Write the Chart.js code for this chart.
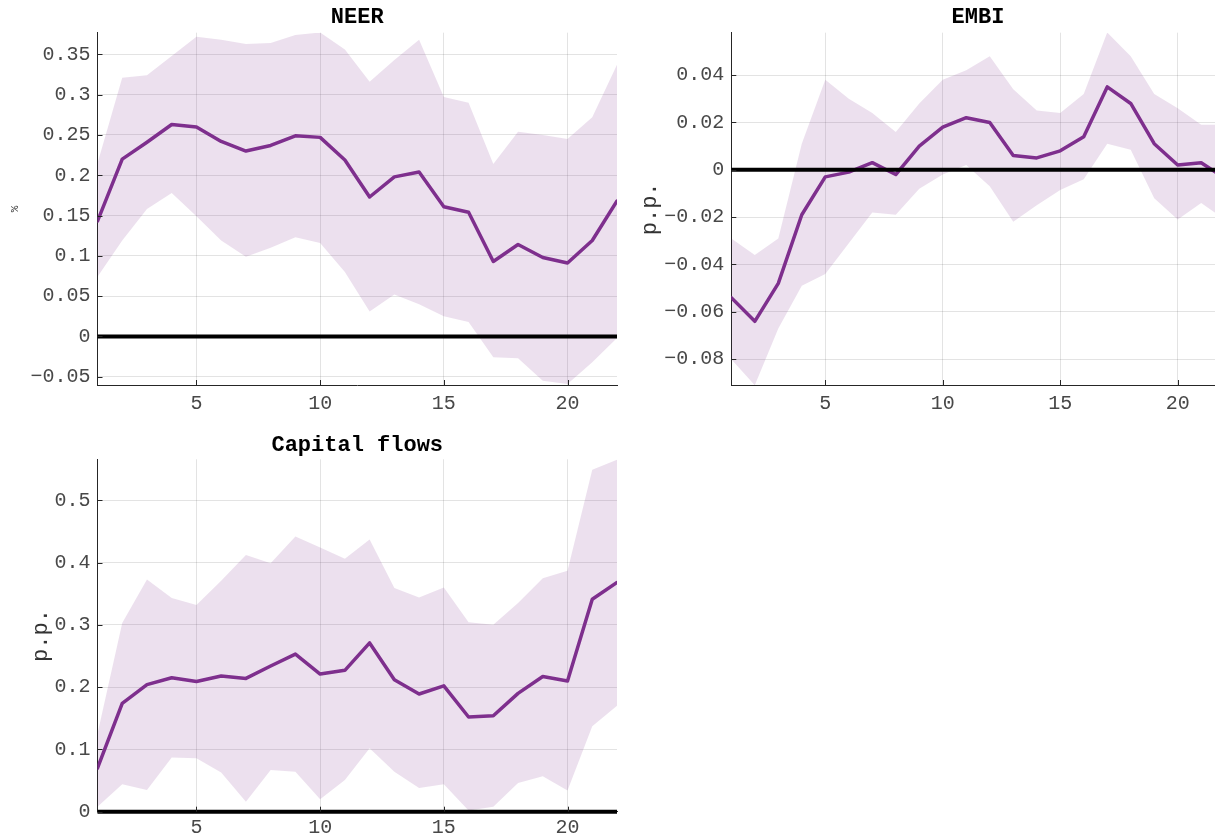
<!DOCTYPE html>
<html>
<head>
<meta charset="utf-8">
<script src="https://cdn.jsdelivr.net/npm/chart.js@4.4.0/dist/chart.umd.min.js"></script>
<style>
  html, body { margin: 0; padding: 0; width: 1215px; height: 835px; overflow: hidden; background: #fff; }
  canvas { position: absolute; }
  #neer { left: 0; top: 0; }
  #embi { left: 620px; top: 0; }
  #flows { left: 0; top: 420px; }
</style>
</head>
<body>
<canvas id="neer" width="620" height="420"></canvas>
<canvas id="embi" width="620" height="420"></canvas>
<canvas id="flows" width="620" height="425"></canvas>
<script>
// Horizons (periods after the shock)
const horizon = [1, 2, 3, 4, 5, 6, 7, 8, 9, 10, 11, 12, 13, 14, 15, 16, 17, 18, 19, 20, 21, 22];
const xTicks = [5, 10, 15, 20];

// NEER response, %
const neerMean  = [0.143, 0.220, 0.241, 0.263, 0.260, 0.242, 0.230, 0.237, 0.249, 0.247, 0.219, 0.173, 0.198, 0.204, 0.161, 0.154, 0.093, 0.114, 0.098, 0.091, 0.119, 0.168];
const neerUpper = [0.215, 0.321, 0.324, 0.348, 0.372, 0.368, 0.363, 0.364, 0.374, 0.377, 0.356, 0.316, 0.343, 0.368, 0.297, 0.290, 0.214, 0.254, 0.250, 0.245, 0.272, 0.337];
const neerLower = [0.074, 0.119, 0.158, 0.178, 0.149, 0.119, 0.099, 0.110, 0.123, 0.116, 0.080, 0.031, 0.052, 0.040, 0.025, 0.018, -0.026, -0.027, -0.055, -0.059, -0.032, -0.002];
const neerTicks = [-0.05, 0, 0.05, 0.1, 0.15, 0.2, 0.25, 0.3, 0.35];

// EMBI response, p.p.
const embiMean  = [-0.054, -0.064, -0.048, -0.019, -0.003, -0.001, 0.003, -0.002, 0.010, 0.018, 0.022, 0.020, 0.006, 0.005, 0.008, 0.014, 0.035, 0.028, 0.011, 0.002, 0.003, -0.0035];
const embiUpper = [-0.029, -0.036, -0.029, 0.011, 0.038, 0.030, 0.024, 0.016, 0.028, 0.038, 0.042, 0.048, 0.034, 0.025, 0.024, 0.032, 0.058, 0.048, 0.032, 0.026, 0.019, 0.019];
const embiLower = [-0.080, -0.091, -0.067, -0.049, -0.044, -0.031, -0.018, -0.019, -0.008, -0.002, 0.002, -0.007, -0.022, -0.015, -0.0085, -0.004, 0.011, 0.0085, -0.012, -0.021, -0.014, -0.021];
const embiTicks = [-0.08, -0.06, -0.04, -0.02, 0, 0.02, 0.04];

// Capital flows response, p.p.
const flowsMean  = [0.070, 0.174, 0.204, 0.215, 0.209, 0.218, 0.214, 0.234, 0.253, 0.221, 0.227, 0.271, 0.212, 0.189, 0.202, 0.152, 0.154, 0.190, 0.217, 0.210, 0.341, 0.368];
const flowsUpper = [0.125, 0.303, 0.373, 0.343, 0.332, 0.371, 0.412, 0.399, 0.442, 0.424, 0.406, 0.437, 0.359, 0.344, 0.360, 0.304, 0.300, 0.335, 0.375, 0.387, 0.549, 0.565];
const flowsLower = [0.008, 0.044, 0.035, 0.087, 0.086, 0.063, 0.016, 0.067, 0.064, 0.020, 0.051, 0.102, 0.064, 0.038, 0.044, 0.002, 0.008, 0.046, 0.057, 0.034, 0.137, 0.170];
const flowsTicks = [0, 0.1, 0.2, 0.3, 0.4, 0.5];

const LINE = '#7E2F8E';
const BAND = 'rgba(126, 47, 142, 0.15)';
const AXIS = '#262626';
const GRID = 'rgba(38, 38, 38, 0.13)';
const MONO = '"Liberation Mono", "DejaVu Sans Mono", monospace';

Chart.defaults.font.family = MONO;
Chart.defaults.color = '#484848';

function fmt(v) {
  if (Math.abs(v) < 1e-12) return '0';
  return String(+v.toFixed(4)).replace('-', '\u2212');
}

// Zero reference line (over the band, under the response line), title, axis label, inward ticks
const panelDecor = {
  id: 'panelDecor',
  afterDatasetDraw(chart, args) {
    if (args.index !== 1) return;
    const { ctx, chartArea: a, scales: { y } } = chart;
    const py = y.getPixelForValue(0);
    ctx.save();
    ctx.strokeStyle = '#000';
    ctx.lineWidth = 4;
    ctx.beginPath();
    ctx.moveTo(a.left, py);
    ctx.lineTo(a.right, py);
    ctx.stroke();
    ctx.restore();
  },
  afterDraw(chart, args, opts) {
    const { ctx, chartArea: a, scales: { x, y } } = chart;
    ctx.save();
    // inward tick marks
    ctx.strokeStyle = AXIS;
    ctx.lineWidth = 1;
    ctx.beginPath();
    y.ticks.forEach(t => {
      const py = Math.round(y.getPixelForValue(t.value)) + 0.5;
      ctx.moveTo(a.left, py);
      ctx.lineTo(a.left + 5, py);
    });
    x.ticks.forEach(t => {
      const px = Math.round(x.getPixelForValue(t.value)) + 0.5;
      ctx.moveTo(px, a.bottom);
      ctx.lineTo(px, a.bottom - 5);
    });
    ctx.stroke();
    // title
    ctx.fillStyle = '#000';
    ctx.font = 'bold 22px ' + MONO;
    ctx.textAlign = 'center';
    ctx.textBaseline = 'alphabetic';
    ctx.fillText(opts.title, (a.left + a.right) / 2, opts.titleBaseline);
    // y-axis label
    ctx.fillStyle = '#333';
    ctx.font = opts.labelSize + 'px ' + MONO;
    ctx.translate(opts.labelX, (a.top + a.bottom) / 2);
    ctx.rotate(-Math.PI / 2);
    ctx.textBaseline = 'middle';
    ctx.fillText(opts.label, 0, 0);
    ctx.restore();
  }
};

function makePanel(id, p) {
  const pts = arr => horizon.map((h, i) => ({ x: h, y: arr[i] }));
  return new Chart(document.getElementById(id), {
    type: 'line',
    data: {
      datasets: [
        { data: pts(p.lower), borderWidth: 0, pointRadius: 0, fill: false, borderColor: 'rgba(0,0,0,0)' },
        { data: pts(p.upper), borderWidth: 0, pointRadius: 0, fill: '-1', backgroundColor: BAND, borderColor: 'rgba(0,0,0,0)' },
        { data: pts(p.mean), borderColor: LINE, borderWidth: 3.5, pointRadius: 0, fill: false, tension: 0, borderJoinStyle: 'round', borderCapStyle: 'round' }
      ]
    },
    options: {
      responsive: false,
      animation: false,
      devicePixelRatio: 1,
      events: [],
      layout: { padding: { left: 0, top: p.top, right: p.right, bottom: 0 } },
      plugins: {
        legend: { display: false },
        tooltip: { enabled: false },
        title: { display: false },
        panelDecor: { title: p.title, titleBaseline: p.titleBaseline, label: p.label, labelX: p.labelX, labelSize: p.labelSize }
      },
      scales: {
        x: {
          type: 'linear',
          min: 1,
          max: 22,
          afterBuildTicks: s => { s.ticks = xTicks.map(v => ({ value: v })); },
          afterFit: s => { s.height = p.xHeight; },
          grid: { color: GRID, lineWidth: 1, drawTicks: false },
          border: { color: AXIS, width: 1 },
          ticks: { font: { size: 20 }, padding: p.xPad, maxRotation: 0, callback: v => fmt(v) }
        },
        y: {
          min: p.yMin,
          max: p.yMax,
          afterBuildTicks: s => { s.ticks = p.yTicks.map(v => ({ value: v })); },
          afterFit: s => { s.width = p.yWidth; },
          grid: { color: GRID, lineWidth: 1, drawTicks: false },
          border: { color: AXIS, width: 1 },
          ticks: { font: { size: 20 }, padding: 7, callback: v => fmt(v) }
        }
      }
    },
    plugins: [panelDecor]
  });
}

makePanel('neer', {
  mean: neerMean, upper: neerUpper, lower: neerLower, yTicks: neerTicks,
  yMin: -0.0603, yMax: 0.3769,
  title: 'NEER', titleBaseline: 23, label: '%', labelX: 15, labelSize: 11,
  top: 32.7, right: 3, yWidth: 97.5, xHeight: 35, xPad: 7
});

makePanel('embi', {
  mean: embiMean, upper: embiUpper, lower: embiLower, yTicks: embiTicks,
  yMin: -0.0909, yMax: 0.0579,
  title: 'EMBI', titleBaseline: 23, label: 'p.p.', labelX: 30, labelSize: 22,
  top: 32.7, right: 15.3, yWidth: 111.3, xHeight: 35, xPad: 7
});

makePanel('flows', {
  mean: flowsMean, upper: flowsUpper, lower: flowsLower, yTicks: flowsTicks,
  yMin: 0, yMax: 0.5658,
  title: 'Capital flows', titleBaseline: 31, label: 'p.p.', labelX: 41.5, labelSize: 22,
  top: 39.3, right: 3, yWidth: 97.5, xHeight: 33.3, xPad: 4
});
</script>
</body>
</html>
